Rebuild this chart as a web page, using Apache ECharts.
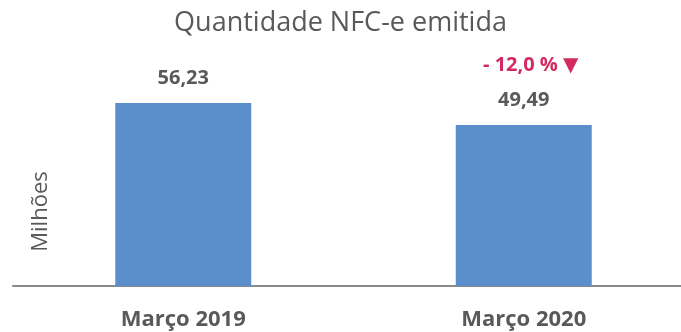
<!DOCTYPE html>
<html>
<head>
<meta charset="utf-8">
<script src="https://cdn.jsdelivr.net/npm/echarts@6/dist/echarts.min.js"></script>
<style>
  html, body { margin: 0; padding: 0; background: #fff; }
  #chart { width: 681px; height: 332px; }
</style>
</head>
<body>
<div id="chart"></div>
<script>
// Monthly NFC-e volume (millions)
var categories = ['Março 2019', 'Março 2020'];
var values = [56.23, 49.49];

var fmt = function (v, d) { return v.toFixed(d).replace('.', ','); };
var change = (values[1] / values[0] - 1) * 100;
var changeText = (change < 0 ? '- ' : '+ ') + fmt(Math.abs(change), 1) + ' %';

var font = '"Open Sans", "DejaVu Sans", sans-serif';
var grey = '#595959';
var red = '#d32a5f';

var chart = echarts.init(document.getElementById('chart'), null, { renderer: 'canvas' });
chart.setOption({
  animation: false,
  title: {
    text: 'Quantidade NFC-e emitida',
    left: 'center',
    top: 5,
    textStyle: { fontFamily: font, fontSize: 27, fontWeight: 'normal', color: grey }
  },
  grid: { left: 13, right: -13, top: 29, bottom: 46, outerBoundsMode: 'none', containLabel: false },
  xAxis: {
    type: 'category',
    data: categories,
    axisLine: { lineStyle: { color: '#8a8a8a', width: 2 } },
    axisTick: { show: false },
    axisLabel: { fontFamily: font, fontSize: 22, fontWeight: 'bold', color: grey, margin: 23 }
  },
  yAxis: {
    type: 'value',
    min: 0,
    max: 79,
    name: 'Milhões',
    nameLocation: 'middle',
    nameGap: -39,
    nameRotate: 90,
    nameTextStyle: { fontFamily: font, fontSize: 22, color: grey, padding: [0, 108, 0, 0] },
    axisLine: { show: false },
    axisTick: { show: false },
    axisLabel: { show: false },
    splitLine: { show: false }
  },
  series: [{
    type: 'bar',
    data: values,
    barWidth: 136,
    itemStyle: { color: '#5b8fcb' },
    label: {
      show: true,
      position: 'top',
      distance: 7,
      formatter: function (p) {
        var s = '{v|' + fmt(p.value, 2) + '}';
        if (p.dataIndex === 1) s = '{r|' + changeText + ' ▼}\n' + s;
        return s;
      },
      rich: {
        v: { fontFamily: font, fontSize: 20, fontWeight: 'bold', color: grey, lineHeight: 35 },
        r: { fontFamily: font, fontSize: 20, fontWeight: 'bold', color: red, lineHeight: 35, padding: [0, 0, 0, 14] }
      }
    }
  }]
});
</script>
</body>
</html>
